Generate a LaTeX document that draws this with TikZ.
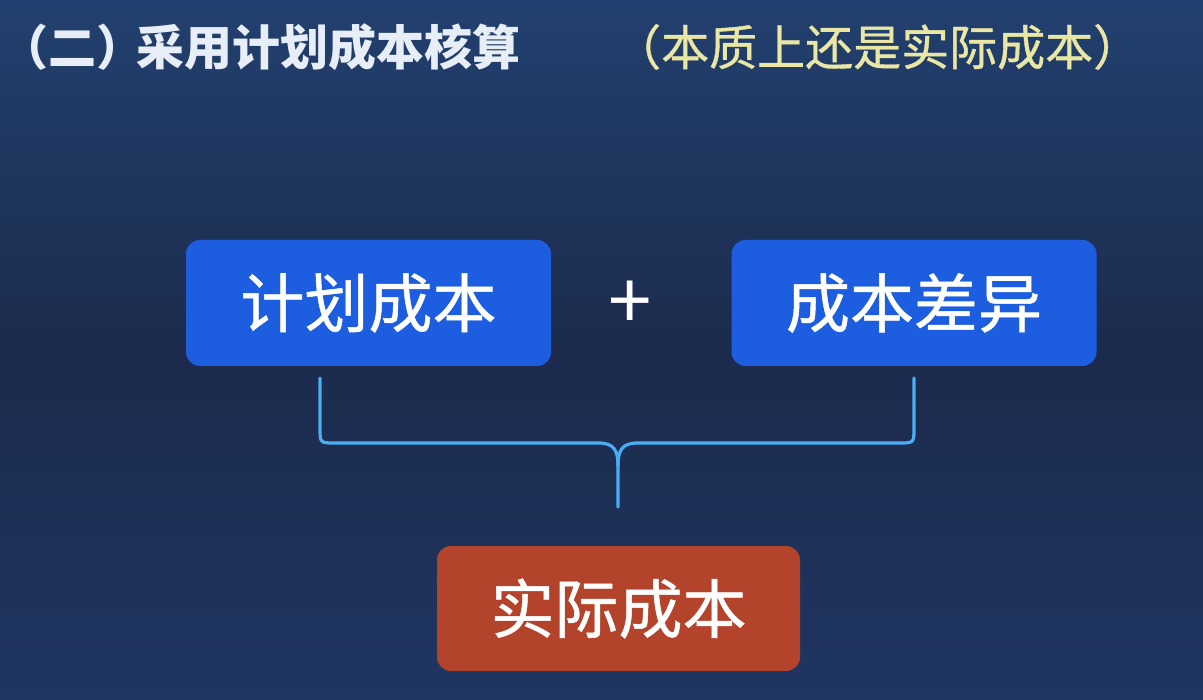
\documentclass[tikz,border=0pt]{standalone}
\usepackage{fontspec}
\newfontfamily\cjk{Noto Sans CJK SC}
\newfontfamily\cjkmed[FakeBold=0.8]{Noto Sans CJK SC}
\usetikzlibrary{positioning}
\definecolor{bgtop}{HTML}{22406F}
\definecolor{bgmid}{HTML}{1C2B4C}
\definecolor{bgbot}{HTML}{1F3562}
\definecolor{boxblue}{HTML}{1D5DDF}
\definecolor{boxred}{HTML}{B4432B}
\definecolor{bracecol}{HTML}{4AAEF5}
\definecolor{noteyellow}{HTML}{EAE6A4}
\definecolor{titlewhite}{HTML}{E8EEF8}
\tikzset{
  cbox/.style={rounded corners=14pt, minimum width=365pt, minimum height=126pt,
    inner sep=0pt, text=white, font=\cjkmed\fontsize{64}{70}\selectfont},
  bluebox/.style={cbox, fill=boxblue},
  redbox/.style={cbox, fill=boxred, minimum width=363pt, minimum height=125pt},
  brace/.style={draw=bracecol, line width=3.2pt, line cap=round, line join=round},
}
\begin{document}
\begin{tikzpicture}[x=1pt,y=-1pt]
\shade[top color=bgtop, bottom color=bgbot, middle color=bgmid] (0,0) rectangle (1203,700);
\useasboundingbox (0,0) rectangle (1203,700);
\node[anchor=west, inner sep=0pt, text=titlewhite, font=\cjk\bfseries\fontsize{48}{55}\selectfont] (title) at (0,47) {（二）\hspace{-8pt}采用计划成本核算};
\node[anchor=west, inner sep=0pt, text=noteyellow, font=\cjkmed\fontsize{48}{55}\selectfont] (note) at (613,47) {（本质上还是实际成本）};
\node[bluebox] (plan) at (368.5,303) {计划成本};
\node[bluebox] (diff) at (914,303) {成本差异};
\node[text=white, inner sep=0pt, font=\cjk\fontsize{78}{80}\selectfont] (plus) at (630.5,305) {+};
\node[redbox] (actual) at (618.5,608.5) {实际成本};
\coordinate (bl) at (320,378);
\coordinate (br) at (914,378);
\coordinate (tip) at (618,507);
\draw[brace] (bl) -- (320,428) .. controls (320,443) .. (335,443) -- (598,443)
  .. controls (614,443) and (618,450) .. (618,466) -- (tip);
\draw[brace] (br) -- (914,428) .. controls (914,443) .. (899,443) -- (638,443)
  .. controls (622,443) and (618,450) .. (618,466);
\end{tikzpicture}
\end{document}
